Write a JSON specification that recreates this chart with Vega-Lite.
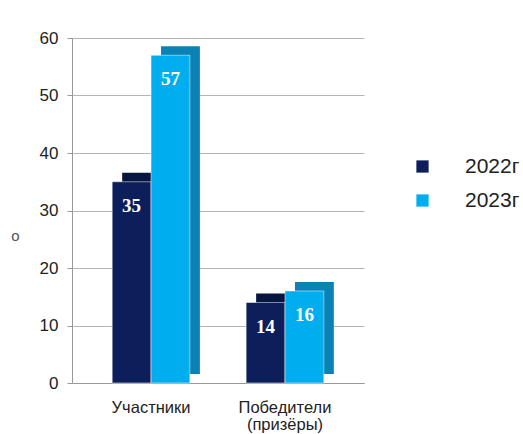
{
  "$schema": "https://vega.github.io/schema/vega-lite/v6.json",
  "width": 292,
  "height": 345,
  "autosize": "none",
  "padding": {"left": 72, "top": 38, "right": 159, "bottom": 51},
  "background": "white",
  "config": {"view": {"stroke": null}, "font": "Liberation Sans"},
  "data": {"values": [
    {"category": "Участники", "year": "2022г", "value": 35},
    {"category": "Участники", "year": "2023г", "value": 57},
    {"category": "Победители (призёры)", "year": "2022г", "value": 14},
    {"category": "Победители (призёры)", "year": "2023г", "value": 16}
  ]},
  "encoding": {
    "x": {"field": "category", "type": "nominal", "sort": null,
      "scale": {"paddingInner": 0.42, "paddingOuter": 0.3},
      "axis": {"title": null, "labelAngle": 0, "ticks": false, "domainColor": "#999999",
        "labelFontSize": 16.5, "labelColor": "#222222", "labelPadding": 16,
        "labelExpr": "split(datum.label, ' ')", "labelLineHeight": 17}},
    "y": {"field": "value", "type": "quantitative",
      "scale": {"domain": [0, 60]},
      "axis": {"values": [0, 10, 20, 30, 40, 50, 60], "title": "о", "titleAngle": 0,
        "titleX": -57, "titleY": 205, "titleFontWeight": "normal", "titleFontSize": 15,
        "titleColor": "#555555", "labelFontSize": 17, "labelColor": "#222222",
        "domainColor": "#999999", "tickColor": "#999999", "tickSize": 5,
        "gridColor": "#b5b5b5", "labelPadding": 9}}
  },
  "layer": [
    {
      "mark": {"type": "bar", "yOffset": -9, "y2Offset": -9},
      "encoding": {
        "xOffset": {"field": "year", "type": "nominal", "sort": ["2022г", "2023г"],
          "scale": {"range": [10, 87.7]}},
        "color": {"field": "year", "type": "nominal",
          "scale": {"domain": ["2022г", "2023г"], "range": ["#071640", "#0a82b5"]},
          "legend": null}
      }
    },
    {
      "mark": {"type": "bar", "stroke": "#ffffff", "strokeWidth": 0.5},
      "encoding": {
        "xOffset": {"field": "year", "type": "nominal", "sort": ["2022г", "2023г"]},
        "color": {"field": "year", "type": "nominal",
          "scale": {"domain": ["2022г", "2023г"], "range": ["#0c1f5b", "#00aeef"]},
          "legend": {"title": null, "orient": "none", "legendX": 340, "legendY": 118,
            "symbolType": "square", "symbolSize": 150, "labelFontSize": 21,
            "labelColor": "#222222", "labelOffset": 32, "rowPadding": 12,
            "symbolStrokeWidth": 0}}
      }
    },
    {
      "mark": {"type": "text", "color": "white", "font": "Liberation Serif",
        "fontWeight": "bold", "fontSize": 19, "baseline": "middle", "dy": 24},
      "encoding": {
        "xOffset": {"field": "year", "type": "nominal", "sort": ["2022г", "2023г"]},
        "text": {"field": "value", "type": "quantitative"}}
    }
  ],
  "resolve": {"scale": {"color": "independent", "xOffset": "independent"}}
}
